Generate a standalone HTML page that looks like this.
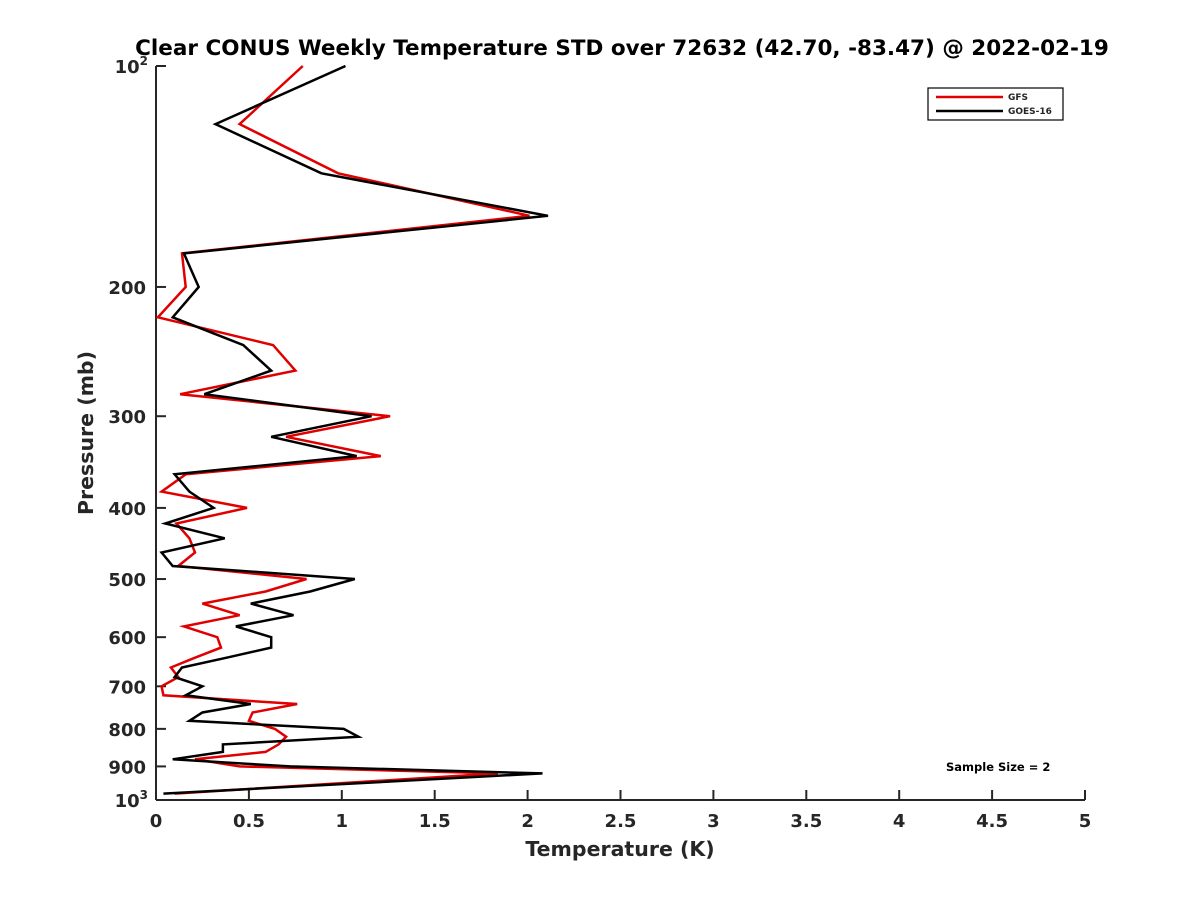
<!DOCTYPE html>
<html><head><meta charset="utf-8"><style>
body{margin:0;background:#fff;}
text{font-family:"DejaVu Sans","Liberation Sans",sans-serif;font-weight:bold;fill:#262626;}
</style></head><body>
<svg id="chart" width="1200" height="900" viewBox="0 0 1200 900" xmlns="http://www.w3.org/2000/svg">
<rect width="1200" height="900" fill="#fff"/>
<text x="622" y="55" text-anchor="middle" font-size="21.5" style="fill:#000">Clear CONUS Weekly Temperature STD over 72632 (42.70, -83.47) @ 2022-02-19</text>
<g id="axes"></g>
<g id="series"></g>
<g>
<rect x="928" y="88" width="135" height="32" fill="#fff" stroke="#000" stroke-width="1.2"/>
<line x1="936" y1="97" x2="1003" y2="97" stroke="#e00000" stroke-width="2.5"/>
<text x="1008" y="100" font-size="9">GFS</text>
<line x1="936" y1="111" x2="1003" y2="111" stroke="#000" stroke-width="2.5"/>
<text x="1008" y="114" font-size="9">GOES-16</text>
</g>
<text x="946" y="771" font-size="11.5" style="fill:#000">Sample Size = 2</text>
<text x="620" y="856" text-anchor="middle" font-size="20.5">Temperature (K)</text>
<text transform="translate(93,433) rotate(-90)" text-anchor="middle" font-size="20.5">Pressure (mb)</text>
</svg>
<script>
const pressures=[100,120,140,160,180,200,220,240,260,280,300,320,340,360,380,400,420,440,460,480,500,520,540,560,580,600,620,640,660,680,700,720,740,760,780,800,820,840,860,880,900,920,980];
const gfsStd=[0.79,0.45,0.98,2.01,0.14,0.16,0.01,0.63,0.75,0.13,1.26,0.70,1.21,0.16,0.03,0.49,0.11,0.18,0.21,0.12,0.81,0.59,0.25,0.45,0.15,0.33,0.35,0.21,0.08,0.12,0.03,0.04,0.76,0.52,0.50,0.64,0.70,0.66,0.59,0.21,0.45,1.84,0.10];
const goesStd=[1.02,0.32,0.89,2.11,0.15,0.23,0.09,0.47,0.62,0.26,1.16,0.62,1.08,0.10,0.18,0.31,0.05,0.37,0.03,0.09,1.07,0.83,0.51,0.74,0.43,0.62,0.62,0.38,0.14,0.10,0.25,0.16,0.51,0.25,0.18,1.01,1.09,0.36,0.36,0.09,0.72,2.08,0.04];
const xTicks=[0,0.5,1,1.5,2,2.5,3,3.5,4,4.5,5];
const xTickLabels=["0","0.5","1","1.5","2","2.5","3","3.5","4","4.5","5"];
const yTicks=[100,200,300,400,500,600,700,800,900,1000];
const yTickLabels=["10^2","200","300","400","500","600","700","800","900","10^3"];
const NS="http://www.w3.org/2000/svg";
const X0=156,X1=1085,Y0=66,Y1=800;
function xs(v){return X0+(v-0)/(5-0)*(X1-X0);}
function ys(p){return Y0+(Math.log10(p)-2)*(Y1-Y0);}
function mk(tag,attrs,parent){const e=document.createElementNS(NS,tag);for(const k in attrs)e.setAttribute(k,attrs[k]);parent.appendChild(e);return e;}
const ax=document.getElementById('axes');
const yl=mk('line',{x1:X0,y1:Y0,x2:X0,y2:Y1,stroke:'#262626','stroke-width':2},ax);


const xl=mk('line',{x1:X0,y1:Y1,x2:X1,y2:Y1,stroke:'#262626','stroke-width':2},ax);


xTicks.forEach((v,i)=>{
  const x=xs(v);
  const t=mk('line',{x1:x,y1:Y1,x2:x,y2:Y1-10,stroke:'#262626','stroke-width':2},ax);
  
  
  const tx=mk('text',{x:x,y:Y1+27,'text-anchor':'middle','font-size':18},ax);
  tx.textContent=xTickLabels[i];
  
  
});
yTicks.forEach((p,i)=>{
  const y=ys(p);
  const t=mk('line',{x1:X0,y1:y,x2:X0+10,y2:y,stroke:'#262626','stroke-width':2},ax);
  
  
  const lab=yTickLabels[i];
  const tx=mk('text',{x:X0-10,y:y+7,'text-anchor':'end','font-size':18},ax);
  if(lab.indexOf('^')>=0){
    const parts=lab.split('^');
    tx.textContent=parts[0];
    const sup=mk('tspan',{dy:-8,'font-size':12},tx);
    sup.textContent=parts[1];
    tx.setAttribute('x',X0-8);
  } else tx.textContent=lab;
  
  
});
const sg=document.getElementById('series');
function line(vals,color,name){
  const pts=vals.map((v,i)=>xs(v).toFixed(1)+','+ys(pressures[i]).toFixed(1)).join(' ');
  const pl=mk('polyline',{points:pts,fill:'none',stroke:color,'stroke-width':2.5,'stroke-linejoin':'miter'},sg);
  
  
}
line(gfsStd,'#e00000','gfs-line');
line(goesStd,'#000000','goes16-line');
</script>
</body></html>
